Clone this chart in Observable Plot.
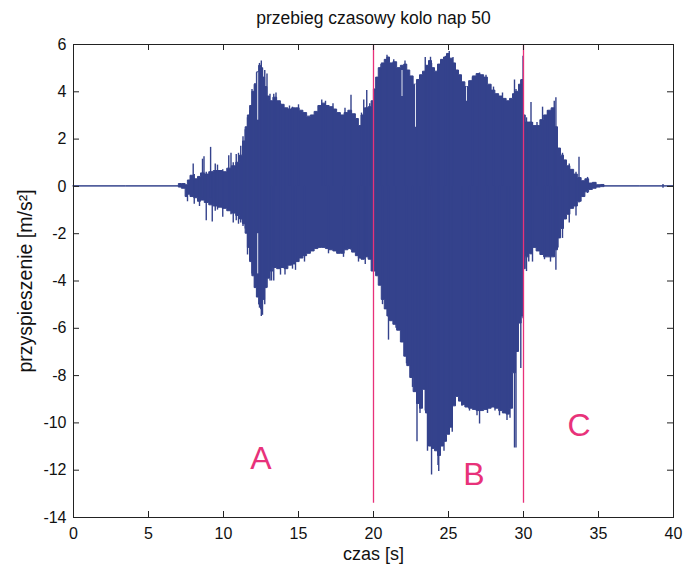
<!DOCTYPE html>
<html><head><meta charset="utf-8">
<script src="https://cdn.jsdelivr.net/npm/d3@7"></script>
<script src="https://cdn.jsdelivr.net/npm/@observablehq/plot@0.6"></script>
<style>body{margin:0;background:#fff}</style>
</head><body><div id="chart"></div>
<script>
// Envelope of the acceleration signal
const envT =     [0, 7.0, 7.05, 7.4, 7.55, 7.7, 7.9, 8.2, 8.4, 8.6, 8.9, 9.2, 9.5, 9.8, 10.1, 10.4, 10.7, 11.0, 11.2, 11.4, 11.55, 11.7, 11.85, 12.0, 12.15, 12.3, 12.45, 12.55, 12.7, 12.85, 13.0, 13.2, 13.45, 13.7, 13.95, 14.2, 14.45, 14.7, 14.95, 15.2, 15.45, 15.7, 15.95, 16.2, 16.45, 16.7, 16.95, 17.2, 17.45, 17.7, 17.95, 18.2, 18.45, 18.7, 18.95, 19.1, 19.3, 19.55, 19.8, 19.95, 20.1, 20.25, 20.45, 20.65, 20.85, 21.0, 21.2, 21.45, 21.7, 21.95, 22.15, 22.35, 22.55, 22.8, 23.0, 23.2, 23.4, 23.6, 23.8, 24.0, 24.2, 24.4, 24.6, 24.8, 25.0, 25.2, 25.4, 25.6, 25.8, 26.0, 26.25, 26.5, 26.75, 27.0, 27.25, 27.5, 27.75, 28.0, 28.25, 28.5, 28.75, 29.0, 29.2, 29.4, 29.6, 29.8, 29.95, 30.05, 30.25, 30.5, 30.75, 31.0, 31.25, 31.5, 31.75, 32.0, 32.2, 32.4, 32.6, 32.8, 33.0, 33.25, 33.5, 33.75, 34.0, 34.25, 34.5, 34.75, 35.0, 35.3, 35.5, 40];
const envUpper = [0, 0, 0.1, 0.1, 0.05, 0.25, 0.45, 0.3, 0.4, 0.55, 0.5, 0.6, 0.65, 0.65, 0.6, 0.75, 0.85, 1.0, 1.3, 1.9, 2.5, 3.0, 3.4, 4.0, 4.3, 4.8, 5.1, 5.0, 4.6, 4.2, 3.8, 3.6, 3.75, 3.6, 3.45, 3.3, 3.25, 3.3, 3.3, 3.2, 3.1, 2.95, 3.0, 3.15, 3.4, 3.5, 3.4, 3.35, 3.25, 3.1, 3.0, 3.1, 3.2, 3.05, 2.85, 2.55, 3.0, 3.3, 3.35, 3.6, 4.1, 4.6, 5.0, 5.2, 5.35, 5.45, 5.2, 5.25, 5.0, 5.1, 5.15, 4.9, 4.65, 4.3, 4.5, 4.7, 4.85, 5.1, 5.3, 5.0, 4.85, 5.15, 5.35, 5.45, 5.6, 5.4, 5.2, 4.9, 4.7, 4.4, 4.2, 4.45, 4.65, 4.75, 4.7, 4.6, 4.3, 4.05, 3.9, 3.8, 3.7, 3.6, 3.7, 3.9, 4.0, 4.3, 4.5, 3.0, 2.7, 2.7, 2.55, 2.55, 2.8, 3.0, 3.2, 3.3, 2.5, 1.6, 1.3, 1.1, 0.85, 0.7, 0.5, 0.35, 0.22, 0.3, 0.12, 0.15, 0.05, 0.06, 0, 0];
const envLower = [0, 0, -0.05, -0.1, -0.45, -0.35, -0.45, -0.5, -0.65, -0.6, -0.7, -0.8, -0.85, -0.9, -0.95, -1.05, -1.15, -1.25, -1.4, -1.6, -2.0, -2.6, -3.2, -3.8, -4.3, -4.7, -5.0, -5.2, -4.8, -4.3, -3.9, -3.6, -3.45, -3.5, -3.45, -3.5, -3.35, -3.3, -3.2, -3.05, -2.95, -2.85, -2.75, -2.65, -2.6, -2.6, -2.65, -2.7, -2.75, -2.85, -2.85, -2.7, -2.65, -2.8, -2.95, -3.05, -3.1, -3.0, -3.1, -3.6, -3.6, -3.8, -4.2, -4.8, -5.2, -5.5, -5.7, -5.85, -6.1, -6.6, -7.2, -7.6, -8.1, -8.7, -9.2, -9.4, -8.6, -9.6, -11.0, -11.1, -11.2, -11.4, -11.0, -10.8, -10.5, -10.2, -9.3, -8.9, -9.1, -9.25, -9.35, -9.4, -9.45, -9.5, -9.5, -9.45, -9.4, -9.35, -9.4, -9.5, -9.6, -9.65, -9.4, -7.9, -7.0, -5.8, -5.5, -3.5, -3.0, -2.85, -2.6, -2.75, -2.9, -3.0, -3.0, -3.0, -2.7, -2.2, -1.8, -1.4, -1.2, -0.95, -0.85, -0.65, -0.45, -0.25, -0.15, -0.1, -0.05, -0.03, 0, 0];

// Individual oscillation peaks standing out of the envelope
const spikeT =      [7.6, 7.98, 8.05, 8.4, 8.6, 8.7, 8.85, 9.14, 9.25, 9.45, 9.6, 9.95, 10.35, 10.5, 10.65, 10.85, 11.0, 11.15, 11.3, 11.45, 11.6, 11.75, 11.9, 12.1, 12.25, 12.4, 12.52, 12.6, 12.75, 12.9, 13.1, 13.35, 13.8, 14.1, 14.6, 18.5, 19.35, 19.55, 22.9, 23.45, 23.6, 23.87, 24.3, 24.35, 25.05, 27.07, 29.4, 29.5, 29.82, 29.97, 30.2, 30.5, 30.6, 31.27, 32.05, 32.16, 32.6, 33.05, 33.5, 33.7, 34.27, 39.3,
                     13.5, 14.4, 15.0, 16.55, 16.8, 17.3, 18.1, 19.2, 19.75, 13.2, 14.8, 15.4, 17.0, 18.0, 19.0, 19.45,
                     20.5, 20.9, 21.35, 22.1, 23.8, 24.8, 25.3, 26.6, 27.5, 28.0, 28.6, 20.6, 21.0, 21.5, 22.2, 22.6, 23.1, 24.7, 25.25, 25.9, 26.4, 26.9, 27.6, 28.1, 28.4, 28.9, 29.1,
                     30.9, 31.6, 30.35, 31.4, 31.8, 32.3];
const spikeTop =    [0, 0.95, 0.5, 0.3, 1.15, 1.25, 0.6, 1.65, 0.6, 0.95, 0.9, 0.7, 1.3, 1.4, 1.0, 1.35, 1.4, 1.7, 2.1, 2.4, 2.9, 3.2, 4.1, 4.35, 4.85, 5.2, 5.3, 5.0, 4.9, 4.75, 3.9, 3.9, 3.5, 3.3, 3.35, 3.85, 3.65, 4.05, 4.3, 5.45, 5.1, 5.2, 4.9, 5.0, 5.7, 4.8, 4.5, 4.1, 4.5, 5.5, 2.9, 3.55, 2.7, 3.35, 3.6, 3.75, 1.4, 0.95, 0.6, 1.23, 0.38, 0.08,
                     3.95, 3.4, 3.45, 3.65, 3.6, 3.5, 3.3, 3.1, 3.5, 0, 0, 0, 0, 0, 0, 0,
                     5.15, 5.55, 5.35, 5.3, 5.46, 5.5, 5.45, 4.6, 4.7, 4.2, 3.95, 0, 0, 0, 0, 0, 0, 0, 0, 0, 0, 0, 0, 0, 0, 0, 0,
                     2.7, 3.2, 0, 0, 0, 0];
const spikeBottom = [-0.65, -0.3, -0.75, -0.85, -0.5, -0.6, -1.45, -0.5, -1.5, -1.05, -1.0, -1.3, -0.9, -1.2, -1.55, -1.45, -1.6, -1.55, -1.7, -1.8, -2.9, -3.15, -3.7, -4.3, -4.7, -5.15, -5.5, -5.45, -5.0, -4.3, -4.0, -4.0, -3.75, -3.75, -3.5, -2.7, -3.1, -3.0, -10.8, -9.5, -11.2, -12.2, -11.8, -12.05, -10.5, -10.05, -11.06, -11.06, -7.7, -5.6, -3.6, -2.9, -3.2, -2.9, -3.0, -3.55, -2.2, -1.55, -1.25, -0.7, -0.3, -0.08,
                     0, 0, 0, 0, 0, 0, 0, 0, 0, -4.0, -3.55, -3.2, -2.85, -3.0, -3.2, -3.3,
                     0, 0, 0, 0, 0, 0, 0, 0, 0, 0, 0, -5.0, -6.5, -6.0, -7.5, -8.5, -9.6, -11.2, -10.4, -9.3, -9.5, -9.7, -9.6, -9.5, -9.7, -9.9, -9.8,
                     0, 0, -3.2, -3.1, -3.2, -2.6];

// Thin white gaps visible inside the filled envelope
const gapT =      [12.28, 12.28, 21.9, 22.8, 26.2];
const gapTop =    [4.8, -2.0, 4.9, 4.3, 4.2];
const gapBottom = [2.8, -3.7, 3.8, 2.5, 3.6];

// Phase boundaries and labels
const boundaryT = [20, 30];
const boundaryTop = [6, 6];
const boundaryBottom = [-13.4, -13.4];
const zoneText = ["A", "B", "C"];
const zoneT = [12.5, 26.7, 33.7];
const zoneV = [-11.5, -12.2, -10.1];

const xTicks = [0, 5, 10, 15, 20, 25, 30, 35, 40];
const yTicks = [-14, -12, -10, -8, -6, -4, -2, 0, 2, 4, 6];
const titleText = "przebieg czasowy kolo nap 50";
const xLabel = "czas [s]";
const yLabel = "przyspieszenie [m/s²]";

const env = envT.map((t, i) => ({t, hi: envUpper[i], lo: envLower[i]}));
const spikes = spikeT.map((t, i) => ({t, hi: spikeTop[i], lo: spikeBottom[i]}));
const gaps = gapT.map((t, i) => ({t, hi: gapTop[i], lo: gapBottom[i]}));
const bounds = boundaryT.map((t, i) => ({t, y1: boundaryBottom[i], y2: boundaryTop[i]}));
const zones = zoneText.map((s, i) => ({s, t: zoneT[i], v: zoneV[i]}));

const W = 684, H = 567, mL = 73, mR = 11, mT = 44, mB = 50;
const plotW = W - mL - mR, plotH = H - mT - mB;
const blue = "#34428c", pink = "#e8327a";
const font = "'Liberation Sans', Arial, sans-serif";
const fmt = d => String(d); // hyphen-minus like the original

const chart = Plot.plot({
  width: W, height: H,
  marginLeft: mL, marginRight: mR, marginTop: mT, marginBottom: mB,
  style: {fontFamily: font, fontSize: "16px", color: "#111", background: "#fff"},
  x: {domain: [0, 40], ticks: xTicks},
  y: {domain: [-14, 6], ticks: yTicks},
  marks: [
    Plot.areaY(env, {x: "t", y1: "lo", y2: "hi", fill: blue, stroke: blue, strokeWidth: 1, curve: "step"}),
    Plot.ruleX(spikes, {x: "t", y1: "lo", y2: "hi", stroke: blue, strokeWidth: 1.4}),
    Plot.ruleX(gaps, {x: "t", y1: "lo", y2: "hi", stroke: "#dfe3f0", strokeWidth: 1}),
    Plot.ruleX(bounds, {x: "t", y1: "y1", y2: "y2", stroke: pink, strokeWidth: 1.3}),
    Plot.text(zones, {x: "t", y: "v", text: "s", fill: pink, fontSize: 32}),
    Plot.frame({stroke: "#222", strokeWidth: 1}),
    Plot.tickX(xTicks, {x: d => d, insetTop: plotH - 6, stroke: "#222"}),
    Plot.tickX(xTicks, {x: d => d, insetBottom: plotH - 6, stroke: "#222"}),
    Plot.tickY(yTicks, {y: d => d, insetRight: plotW - 6, stroke: "#222"}),
    Plot.tickY(yTicks, {y: d => d, insetLeft: plotW - 6, stroke: "#222"}),
    Plot.axisX(xTicks, {anchor: "bottom", tickSize: 0, tickPadding: 10, tickFormat: fmt, label: null, fontSize: 16}),
    Plot.axisY(yTicks, {anchor: "left", tickSize: 0, tickPadding: 7, tickFormat: fmt, label: null, fontSize: 16}),
    Plot.text([titleText], {frameAnchor: "top", dy: -26, lineAnchor: "middle", textAnchor: "middle", fontSize: 17.5}),
    Plot.text([xLabel], {frameAnchor: "bottom", dy: 37, lineAnchor: "middle", textAnchor: "middle", fontSize: 18}),
    Plot.text([yLabel], {frameAnchor: "left", dx: -48, rotate: -90, lineAnchor: "middle", textAnchor: "middle", fontSize: 19.5})
  ]
});
document.getElementById("chart").appendChild(chart);
</script>
</body></html>
